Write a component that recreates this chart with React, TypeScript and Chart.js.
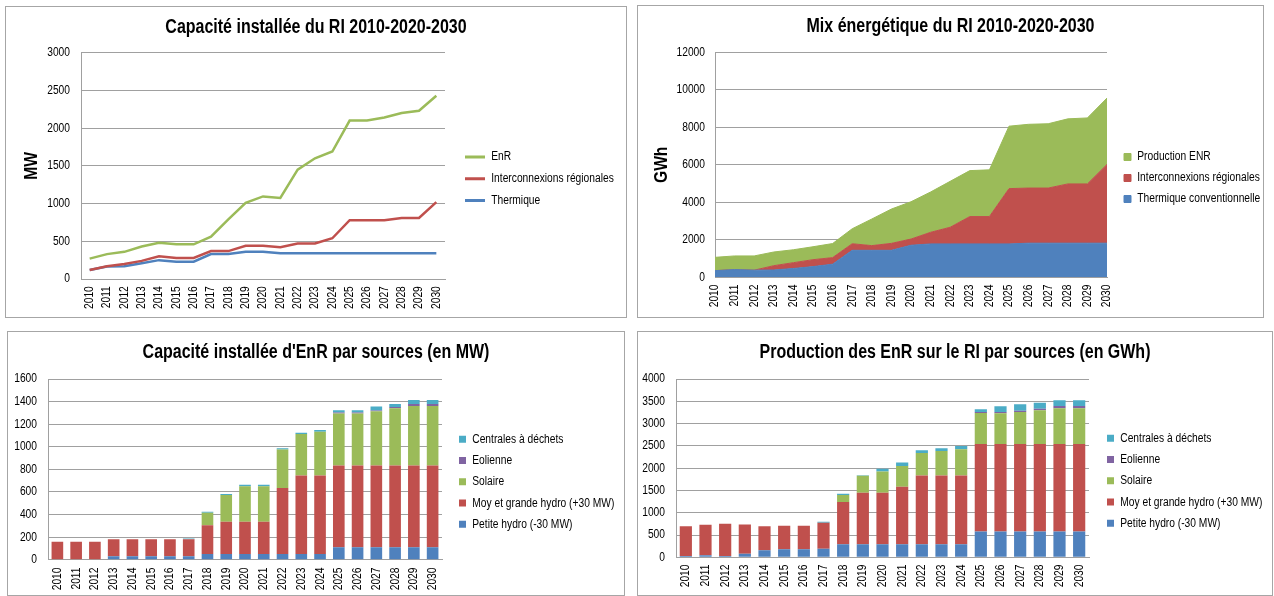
import React, { useEffect, useRef } from 'react';
import { Chart, registerables } from 'chart.js';

Chart.register(...registerables);

// ---------- data ----------
const years = ['2010', '2011', '2012', '2013', '2014', '2015', '2016', '2017', '2018', '2019', '2020',
  '2021', '2022', '2023', '2024', '2025', '2026', '2027', '2028', '2029', '2030'];

// Capacité installée du RI (MW)
const capEnR = [270, 330, 360, 430, 480, 460, 460, 560, 790, 1010, 1095, 1075, 1450, 1600, 1690, 2100, 2100, 2140, 2200, 2230, 2430];
const capInterco = [120, 170, 200, 240, 300, 280, 280, 370, 370, 440, 440, 420, 470, 470, 540, 780, 780, 780, 810, 810, 1020];
const capThermique = [120, 165, 170, 210, 250, 230, 230, 330, 330, 360, 360, 340, 340, 340, 340, 340, 340, 340, 340, 340, 340];

// Mix énergétique du RI (GWh)
const mixThermique = [355, 410, 380, 390, 470, 570, 700, 1440, 1440, 1440, 1710, 1780, 1780, 1780, 1780, 1780, 1820, 1820, 1820, 1820, 1820];
const mixInterco = [0, 0, 0, 230, 310, 370, 350, 350, 250, 370, 330, 620, 890, 1460, 1460, 2950, 2940, 2940, 3160, 3160, 4200];
const mixEnR = [710, 730, 760, 730, 690, 690, 750, 800, 1420, 1830, 1990, 2150, 2450, 2450, 2490, 3330, 3400, 3430, 3470, 3520, 3540];

// Capacité installée d'EnR par sources (MW)
const capPetiteHydro = [0, 0, 0, 30, 30, 30, 30, 30, 50, 50, 50, 50, 50, 50, 50, 110, 110, 110, 110, 110, 110];
const capGrandeHydro = [160, 160, 160, 150, 150, 150, 150, 150, 255, 285, 285, 285, 585, 695, 695, 725, 725, 725, 725, 725, 725];
const capSolaire = [0, 0, 0, 0, 0, 0, 0, 0, 110, 238, 316, 316, 340, 368, 389, 460, 460, 480, 506, 526, 526];
const capEolienne = [0, 0, 0, 0, 0, 0, 0, 0, 0, 0, 0, 0, 0, 0, 0, 8, 8, 5, 12, 18, 18];
const capDechets = [0, 0, 0, 0, 0, 0, 0, 8, 10, 9, 12, 12, 11, 12, 15, 20, 20, 37, 26, 36, 36];

// Production des EnR par sources (GWh)
const prodPetiteHydro = [30, 45, 30, 82, 157, 179, 179, 194, 291, 291, 291, 291, 291, 291, 291, 580, 580, 580, 580, 580, 580];
const prodGrandeHydro = [664, 686, 723, 656, 537, 530, 530, 582, 947, 1156, 1156, 1291, 1544, 1544, 1544, 1964, 1964, 1964, 1964, 1964, 1964];
const prodSolaire = [0, 0, 0, 0, 0, 0, 0, 0, 157, 381, 478, 469, 507, 552, 589, 694, 690, 716, 753, 798, 798];
const prodEolienne = [0, 0, 0, 0, 0, 0, 0, 0, 0, 0, 0, 0, 0, 0, 0, 22, 23, 30, 38, 52, 52];
const prodDechets = [0, 0, 0, 0, 0, 0, 0, 20, 30, 15, 59, 75, 60, 60, 75, 60, 134, 142, 134, 127, 127];

// ---------- style ----------
const FONT = "'Liberation Sans', Arial, sans-serif";
const NARROW = 0.82; // emulate a narrow face (Arial Narrow) by compressing glyphs horizontally
const TEXT = '#000000';
const GRID = '#a0a0a0';
const GREEN = '#9bbb59';
const RED = '#c0504d';
const BLUE = '#4f81bd';
const PURPLE = '#8064a2';
const CYAN = '#4bacc6';
const TICK_SIZE = 12.5;
const LEGEND_SIZE = 12.5;

Chart.defaults.font.family = FONT;
Chart.defaults.color = TEXT;

function narrowContext(ctx: any) {
  if (!ctx || ctx.__narrow) return;
  ctx.__narrow = true;
  const origFill = ctx.fillText.bind(ctx);
  const origMeasure = ctx.measureText.bind(ctx);
  ctx.fillText = function (text: string, x: number, y: number, maxWidth?: number) {
    ctx.save();
    ctx.translate(x, y);
    ctx.scale(NARROW, 1);
    if (maxWidth !== undefined && maxWidth !== null) origFill(text, 0, 0, maxWidth / NARROW);
    else origFill(text, 0, 0);
    ctx.restore();
  };
  ctx.measureText = function (text: string) {
    const m = origMeasure(text);
    return {
      width: m.width * NARROW,
      actualBoundingBoxAscent: m.actualBoundingBoxAscent,
      actualBoundingBoxDescent: m.actualBoundingBoxDescent,
      actualBoundingBoxLeft: m.actualBoundingBoxLeft * NARROW,
      actualBoundingBoxRight: m.actualBoundingBoxRight * NARROW,
      fontBoundingBoxAscent: m.fontBoundingBoxAscent,
      fontBoundingBoxDescent: m.fontBoundingBoxDescent,
    };
  };
}

type P = {
  w: number; h: number;
  yW: number; xH: number; legW: number;
  tTop: number; tBot: number;
  yPad: number; xPad: number;
  legX: number; legY: number; legPad: number; boxW: number; boxH: number;
  yTitle?: string; yTitleOff?: number;
};

const makeLegendPlacer = (p: P) => ({
  id: 'legendPlacer',
  beforeInit(chart: any) {
    const lg = chart.legend;
    if (!lg) return;
    const orig = lg.fit.bind(lg);
    lg.fit = function () {
      orig();
      this.width = p.legW;
    };
  },
  afterLayout(chart: any) {
    const lg = chart.legend;
    if (!lg) return;
    const itemH = Math.max(LEGEND_SIZE, p.boxH);
    lg.left = p.legX - p.legPad;
    lg.right = chart.width;
    lg.width = lg.right - lg.left;
    lg.top = p.legY - p.legPad - itemH / 2;
    lg.bottom = chart.height;
    lg.height = lg.bottom - lg.top;
  },
});

function baseOptions(title: string, p: P, yMax: number, yStep: number, stacked: boolean, xOffset: boolean, reverse: boolean, lineLegend: boolean) {
  const labels: any = {
    boxWidth: p.boxW, boxHeight: p.boxH, padding: p.legPad, color: TEXT,
    font: { size: LEGEND_SIZE, family: FONT },
  };
  if (lineLegend) {
    labels.generateLabels = (chart: any) => chart.data.datasets.map((ds: any, i: number) => ({
      text: ds.label, fillStyle: ds.borderColor, strokeStyle: ds.borderColor, lineWidth: 0, hidden: false, datasetIndex: i,
    }));
  }
  return {
    responsive: false,
    animation: false,
    layout: { padding: 0 },
    plugins: {
      title: {
        display: true, text: title, color: TEXT,
        font: { size: 19.5, weight: 'bold', family: FONT },
        padding: { top: p.tTop, bottom: p.tBot },
      },
      legend: { display: true, position: 'right', align: 'start', reverse, labels },
      tooltip: { enabled: false },
    },
    scales: {
      x: {
        stacked, offset: xOffset,
        grid: { display: false, drawTicks: false },
        border: { display: true, color: GRID, width: 1 },
        ticks: { autoSkip: false, minRotation: 90, maxRotation: 90, padding: p.xPad, color: TEXT, font: { size: TICK_SIZE, family: FONT } },
        afterFit: (s: any) => { s.height = p.xH; },
      },
      y: {
        stacked, min: 0, max: yMax,
        grid: { color: GRID, lineWidth: 1, drawTicks: false },
        border: { display: true, color: GRID, width: 1 },
        ticks: { stepSize: yStep, padding: p.yPad, color: TEXT, font: { size: TICK_SIZE, family: FONT }, callback: (v: any) => String(v) },
        title: p.yTitle
          ? { display: true, text: p.yTitle, color: TEXT, font: { size: 19, weight: 'bold', family: FONT }, padding: { top: p.yTitleOff, bottom: 0 } }
          : { display: false },
        afterFit: (s: any) => { s.width = p.yW; },
      },
    },
  };
}

// ---------- panels ----------
const pTL: P = { w: 620, h: 310, yW: 75, xH: 38, legW: 181, tTop: 8.8, tBot: 13.5, yPad: 11, xPad: 7.2, legX: 459, legY: 150, legPad: 9.25, boxW: 20, boxH: 3, yTitle: 'MW', yTitleOff: 14.6 };
const pTR: P = { w: 625, h: 311, yW: 77, xH: 39.7, legW: 156, tTop: 9.3, tBot: 13.6, yPad: 10, xPad: 7.2, legX: 486, legY: 151, legPad: 8.5, boxW: 7, boxH: 7, yTitle: 'GWh', yTitleOff: 12.6 };
const pBL: P = { w: 616, h: 263, yW: 40, xH: 35.3, legW: 182, tTop: 9.0, tBot: 14.6, yPad: 11, xPad: 7.8, legX: 451, legY: 107.3, legPad: 8.75, boxW: 7, boxH: 7 };
const pBR: P = { w: 634, h: 263, yW: 38, xH: 37.7, legW: 183, tTop: 9.3, tBot: 14.3, yPad: 11, xPad: 7.2, legX: 469, legY: 106.3, legPad: 8.75, boxW: 7, boxH: 7 };

const lineDs = (label: string, data: number[], color: string) => ({
  label, data, borderColor: color, backgroundColor: color, borderWidth: 2.5, pointRadius: 0, tension: 0, fill: false,
});
const areaDs = (label: string, data: number[], color: string, fill: string) => ({
  label, data, borderColor: color, backgroundColor: color, borderWidth: 1, pointRadius: 0, tension: 0, fill,
});
const barDs = (label: string, data: number[], color: string) => ({
  label, data, backgroundColor: color, borderWidth: 0, barPercentage: 0.62, categoryPercentage: 1,
});

const configTL = () => ({
  type: 'line',
  data: {
    labels: years,
    datasets: [
      lineDs('EnR', capEnR, GREEN),
      lineDs('Interconnexions régionales', capInterco, RED),
      lineDs('Thermique', capThermique, BLUE),
    ],
  },
  options: baseOptions('Capacité installée du RI 2010-2020-2030', pTL, 3000, 500, false, true, false, true),
  plugins: [makeLegendPlacer(pTL)],
});

const configTR = () => ({
  type: 'line',
  data: {
    labels: years,
    datasets: [
      areaDs('Thermique conventionnelle', mixThermique, BLUE, 'origin'),
      areaDs('Interconnexions régionales', mixInterco, RED, '-1'),
      areaDs('Production ENR', mixEnR, GREEN, '-1'),
    ],
  },
  options: baseOptions('Mix énergétique du RI 2010-2020-2030', pTR, 12000, 2000, true, false, true, false),
  plugins: [makeLegendPlacer(pTR)],
});

const configBL = () => ({
  type: 'bar',
  data: {
    labels: years,
    datasets: [
      barDs('Petite hydro (-30 MW)', capPetiteHydro, BLUE),
      barDs('Moy et grande hydro (+30 MW)', capGrandeHydro, RED),
      barDs('Solaire', capSolaire, GREEN),
      barDs('Eolienne', capEolienne, PURPLE),
      barDs('Centrales à déchets', capDechets, CYAN),
    ],
  },
  options: baseOptions("Capacité installée d'EnR par sources (en MW)", pBL, 1600, 200, true, true, true, false),
  plugins: [makeLegendPlacer(pBL)],
});

const configBR = () => ({
  type: 'bar',
  data: {
    labels: years,
    datasets: [
      barDs('Petite hydro (-30 MW)', prodPetiteHydro, BLUE),
      barDs('Moy et grande hydro (+30 MW)', prodGrandeHydro, RED),
      barDs('Solaire', prodSolaire, GREEN),
      barDs('Eolienne', prodEolienne, PURPLE),
      barDs('Centrales à déchets', prodDechets, CYAN),
    ],
  },
  options: baseOptions('Production des EnR sur le RI par sources (en GWh)', pBR, 4000, 500, true, true, true, false),
  plugins: [makeLegendPlacer(pBR)],
});

function Panel({ left, top, p, make }: { left: number; top: number; p: P; make: () => any }) {
  const ref = useRef<HTMLCanvasElement>(null);
  useEffect(() => {
    if (!ref.current) return;
    narrowContext(ref.current.getContext('2d'));
    const chart = new Chart(ref.current, make() as any);
    return () => chart.destroy();
  }, []);
  return (
    <div style={{ position: 'absolute', left, top, width: p.w + 2, height: p.h + 2, boxSizing: 'border-box', border: '1px solid #a6a6a6', background: '#fff' }}>
      <canvas ref={ref} width={p.w} height={p.h} style={{ position: 'absolute', left: 0, top: 0, width: p.w, height: p.h }} />
    </div>
  );
}

export default function App() {
  return (
    <div style={{ position: 'absolute', left: 0, top: 0, width: 1274, height: 596, background: '#fff', overflow: 'hidden' }}>
      <Panel left={5} top={6} p={pTL} make={configTL} />
      <Panel left={637} top={5} p={pTR} make={configTR} />
      <Panel left={7} top={331} p={pBL} make={configBL} />
      <Panel left={637} top={331} p={pBR} make={configBR} />
    </div>
  );
}
